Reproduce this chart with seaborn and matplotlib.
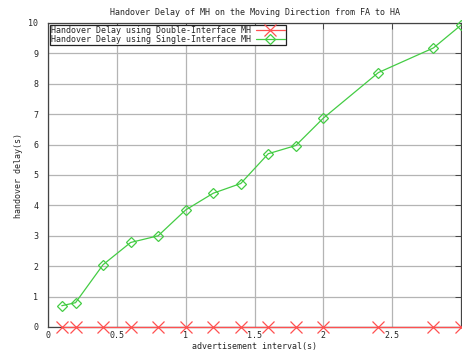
import numpy as np
import pandas as pd
import matplotlib
matplotlib.use("Agg")
import matplotlib.pyplot as plt
import seaborn as sns

# advertisement interval (s)
intervals = [0.1, 0.2, 0.4, 0.6, 0.8, 1.0, 1.2, 1.4, 1.6, 1.8, 2.0, 2.4, 2.8, 3.0]
# handover delay (s)
double_iface = [0, 0, 0, 0, 0, 0, 0, 0, 0, 0, 0, 0, 0, 0]
single_iface = [0.70, 0.80, 2.05, 2.78, 3.00, 3.85, 4.40, 4.72, 5.70, 5.97, 6.87, 8.37, 9.18, 9.93]

series_names = ["Handover Delay using Double-Interface MH",
                "Handover Delay using Single-Interface MH"]
x_ticks = [0, 0.5, 1, 1.5, 2, 2.5]
x_tick_labels = ["0", "0.5", "1", "1.5", "2", "2.5"]
y_ticks = list(range(0, 11))

df_double = pd.DataFrame({"interval": intervals, "delay": double_iface})
df_single = pd.DataFrame({"interval": intervals, "delay": single_iface})

sns.set_style("white")
plt.rcParams["font.family"] = ["DejaVu Sans Mono"]
plt.rcParams["font.size"] = 6

fig = plt.figure(figsize=(4.62, 3.5), dpi=100)
ax = fig.add_axes([48 / 462, 1 - 327 / 350, 413 / 462, 304 / 350])

red = "#ff5050"
green = "#44cc44"
sns.lineplot(data=df_double, x="interval", y="delay", color=red, marker="x",
             markersize=8, markeredgewidth=0.9, markeredgecolor=red,
             linewidth=0.9, ax=ax, clip_on=False, zorder=3)
sns.lineplot(data=df_single, x="interval", y="delay", color=green, marker="D",
             markersize=5.5, markeredgewidth=0.9, markeredgecolor=green,
             markerfacecolor="none", linewidth=0.9, ax=ax, clip_on=False, zorder=3)

ax.set_xlim(0, 3)
ax.set_ylim(0, 10)
ax.set_xticks(x_ticks)
ax.set_xticklabels(x_tick_labels)
ax.set_yticks(y_ticks)
ax.grid(True, color="#b4b4b4", linewidth=0.9)
ax.set_axisbelow(True)
ax.tick_params(direction="in", length=4, width=0.7, color="#444444",
               top=True, right=True, labelsize=6)
ax.tick_params(axis="x", pad=3)
ax.tick_params(axis="y", pad=7)
for s in ax.spines.values():
    s.set_color("#444444")
    s.set_linewidth(0.9)

ax.set_title("Handover Delay of MH on the Moving Direction from FA to HA",
             fontsize=6, pad=6)
ax.set_xlabel("advertisement interval(s)", fontsize=6, labelpad=1)
ax.set_ylabel("handover delay(s)", fontsize=6, labelpad=4)

handles = ax.lines[:2]
leg = ax.legend(handles, series_names, loc="upper left", markerfirst=False,
                frameon=True, fancybox=False, fontsize=6, borderpad=0.15,
                handlelength=3.5, handletextpad=0.6, labelspacing=0.0,
                borderaxespad=0.2, bbox_to_anchor=(0.0, 1.0))
leg.get_frame().set_edgecolor("#222222")
leg.get_frame().set_linewidth(0.9)
leg.get_frame().set_facecolor("white")
leg.get_frame().set_alpha(1)

fig.savefig("out.png", dpi=100)
